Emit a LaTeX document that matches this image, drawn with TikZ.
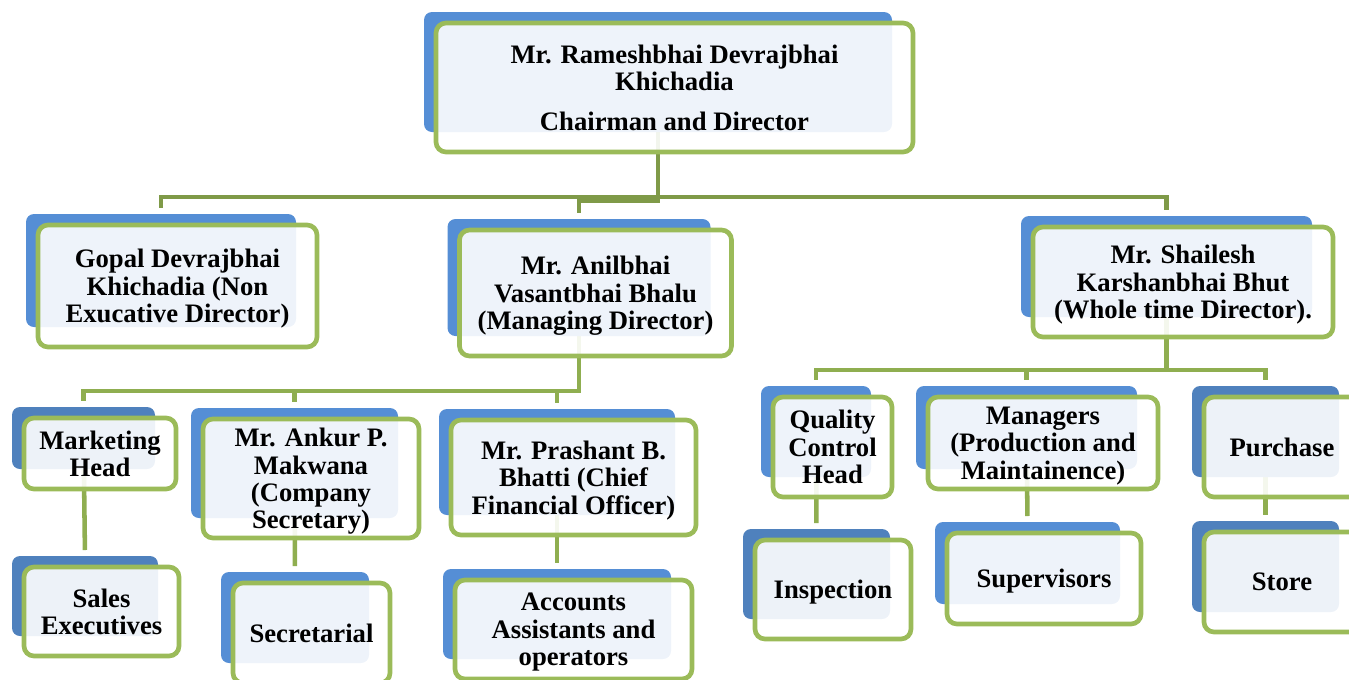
\documentclass[tikz,border=0pt]{standalone}
\usepackage{fontspec}
\setmainfont{Liberation Serif}
\usetikzlibrary{calc}
\definecolor{bluelight}{HTML}{558ED5}
\definecolor{bluedark}{HTML}{4F81BD}
\definecolor{greenborder}{HTML}{9BBB59}
\definecolor{connA}{HTML}{7F9A48}
\definecolor{connB}{HTML}{8FAE50}
\pgfdeclarelayer{connlayer}
\pgfdeclarelayer{bluelayer}
\pgfsetlayers{connlayer,bluelayer,main}
\tikzset{
  bluebox/.style={rounded corners=6pt, inner sep=0pt, outer sep=0pt},
  greenbox/.style={draw=greenborder, line width=3.5pt, rounded corners=7.5pt,
    fill=white, fill opacity=0.9, text opacity=1, inner sep=0pt, outer sep=0pt,
    align=center, text depth=0pt, font=\fontsize{20}{20.6}\selectfont\bfseries},
  connmain/.style={draw=connA, line width=3.6pt, shorten >=4.5pt},
  connsub/.style={draw=connB, line width=3.4pt, shorten >=4.5pt},
}
\newcommand\orgnode[7]{%
  \begin{pgfonlayer}{bluelayer}
  \node[bluebox, fill=#6, minimum width={(#4-9)*0.75pt}, minimum height={(#5-9)*0.75pt}] (#1-b) at ({#2-16.5},{#3-15.5}) {};
  \end{pgfonlayer}
  \node[greenbox, minimum width={#4*0.75pt}, minimum height={#5*0.75pt}] (#1) at (#2,#3) {#7};
}
\begin{document}
\begin{tikzpicture}[x=0.75pt,y=-0.75pt]
\useasboundingbox (0,0) rectangle (1349,679);
\clip (0,0) rectangle (1349,679);
% level 0
\orgnode{top}{674.5}{87.5}{477}{129}{bluelight}{Mr. Rameshbhai Devrajbhai\\Khichadia\\[9pt]Chairman and Director}
% level 1
\orgnode{gopal}{177.5}{286}{279}{122}{bluelight}{Gopal Devrajbhai\\Khichadia (Non\\Exucative Director)}
\orgnode{anil}{595.5}{293}{272}{126}{bluelight}{Mr. Anilbhai\\Vasantbhai Bhalu\\(Managing Director)}
\orgnode{shail}{1183}{282}{300}{110}{bluelight}{Mr. Shailesh\\Karshanbhai Bhut\\(Whole time Director).}
% level 2
\orgnode{mkt}{100}{453.5}{152}{71}{bluedark}{Marketing\\Head}
\orgnode{ankur}{311}{478.5}{216}{119}{bluelight}{Mr. Ankur P.\\Makwana\\(Company\\Secretary)}
\orgnode{prash}{573.5}{477.5}{245}{115}{bluelight}{Mr. Prashant B.\\Bhatti (Chief\\Financial Officer)}
\orgnode{qual}{832.5}{447}{119}{100}{bluelight}{Quality\\Control\\Head}
\orgnode{mgr}{1043}{443}{230}{92}{bluelight}{Managers\\(Production and\\Maintainence)}
\orgnode{purch}{1282}{447}{156}{100}{bluedark}{Purchase}
% level 3
\orgnode{sales}{101.5}{611.5}{155}{89}{bluedark}{Sales\\Executives}
\orgnode{secr}{311.5}{633}{157}{100}{bluelight}{Secretarial}
\orgnode{acct}{573.5}{629.5}{237}{99}{bluelight}{Accounts\\Assistants and\\operators}
\orgnode{insp}{833}{589.5}{156}{99}{bluedark}{Inspection}
\orgnode{superv}{1044}{578.5}{194}{91}{bluelight}{Supervisors}
\orgnode{store}{1282}{582}{156}{100}{bluedark}{Store}
% connectors
\coordinate (busA) at (0,197);
\coordinate (busA2) at (0,201);
\coordinate (busB) at (0,391);
\coordinate (busC) at (0,370);
\begin{pgfonlayer}{connlayer}
\draw[connmain] (top-b.center) |- (gopal-b.north |- busA) -- (gopal-b.north);
\draw[connmain] (top-b.center) |- (anil-b.north |- busA2) -- (anil-b.north);
\draw[connmain] (top-b.center) |- (shail-b.north |- busA) -- (shail-b.north);
\draw[connsub] (anil-b.center) |- (mkt-b.north |- busB) -- (mkt-b.north);
\draw[connsub] (anil-b.center) |- (ankur-b.north |- busB) -- (ankur-b.north);
\draw[connsub] (anil-b.center) |- (prash-b.north |- busB) -- (prash-b.north);
\draw[connsub] (shail-b.center) |- (qual-b.north |- busC) -- (qual-b.north);
\draw[connsub] (shail-b.center) |- (mgr-b.north |- busC) -- (mgr-b.north);
\draw[connsub] (shail-b.center) |- (purch-b.north |- busC) -- (purch-b.north);
\draw[connsub] (mkt-b.center) -- (sales-b.north);
\draw[connsub] (ankur-b.center) -- (secr-b.north);
\draw[connsub] (prash-b.center) -- (acct-b.north);
\draw[connsub] (qual-b.center) -- (insp-b.north);
\draw[connsub] (mgr-b.center) -- (superv-b.north);
\draw[connsub] (purch-b.center) -- (store-b.north);
\end{pgfonlayer}
\end{tikzpicture}
\end{document}
